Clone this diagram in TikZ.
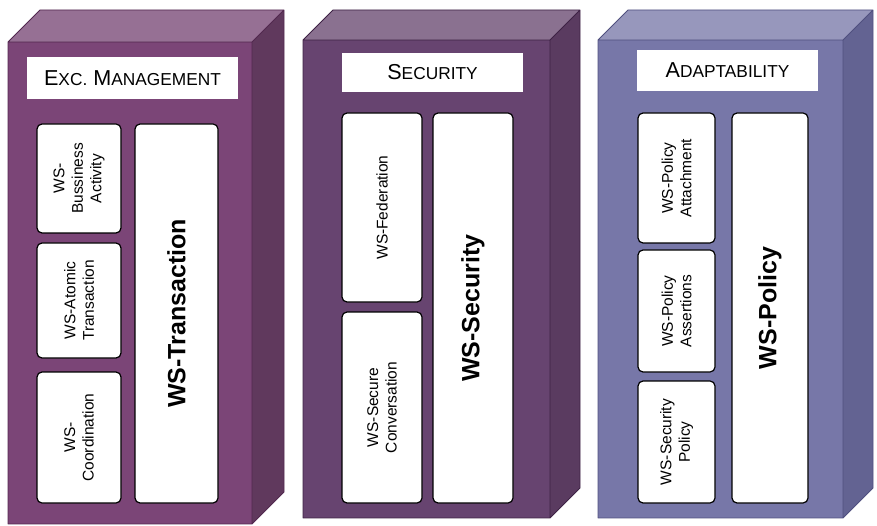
\documentclass[tikz,border=0pt]{standalone}
\usepackage{fontspec}
\setmainfont{Liberation Sans}
\definecolor{aF}{HTML}{7B4577}
\definecolor{aT}{HTML}{967094}
\definecolor{aS}{HTML}{60395D}
\definecolor{aL}{HTML}{52284F}
\definecolor{bF}{HTML}{674470}
\definecolor{bT}{HTML}{8A7190}
\definecolor{bS}{HTML}{5A3B60}
\definecolor{bL}{HTML}{3E2245}
\definecolor{cF}{HTML}{7777A8}
\definecolor{cT}{HTML}{9797BC}
\definecolor{cS}{HTML}{636392}
\definecolor{cL}{HTML}{50507F}
\newcommand{\bigc}[1]{{\fontsize{21.6}{25}\selectfont #1}}
\newcommand{\smc}[1]{{\fontsize{17.3}{20}\selectfont #1}}
\newcommand{\cube}[8]{% x1 y1 x2 y2 d front top side
  \fill[#6] (#1,#2) -- (#1+#5,#2-#5) -- (#3+#5,#2-#5) -- (#3,#2) -- cycle;
  \fill[#8] (#3,#2) -- (#3+#5,#2-#5) -- (#3+#5,#4-#5) -- (#3,#4) -- cycle;
  \fill[#7] (#1,#2) rectangle (#3,#4);
}
\tikzset{
  x=1pt, y=-1pt,
  inbox/.style={draw=black, line width=1.2pt, fill=white, rounded corners=5pt,
    rotate=90, align=center, inner sep=0pt,
    font=\fontsize{15.5}{18.5}\selectfont},
  bigbox/.style={inbox, font=\fontsize{25}{30}\selectfont\bfseries},
  label/.style={fill=white, inner sep=0pt, draw=none}
}
\begin{document}
\begin{tikzpicture}
\useasboundingbox (0,0) rectangle (877,526);
% cubes
\cube{8}{42}{252}{524}{32}{aT}{aF}{aS}
\draw[aL, line width=0.9pt, line join=round] (8,42) -- (40,10) -- (284,10) -- (284,492) -- (252,524) -- (8,524) -- cycle (8,42) -- (252,42) -- (284,10) (252,42) -- (252,524);
\cube{303}{40}{550}{518}{30}{bT}{bF}{bS}
\draw[bL, line width=0.9pt, line join=round] (303,40) -- (333,10) -- (580,10) -- (580,488) -- (550,518) -- (303,518) -- cycle (303,40) -- (550,40) -- (580,10) (550,40) -- (550,518);
\cube{598}{40}{843}{518}{30}{cT}{cF}{cS}
\draw[cL, line width=0.9pt, line join=round] (598,40) -- (628,10) -- (873,10) -- (873,488) -- (843,518) -- (598,518) -- cycle (598,40) -- (843,40) -- (873,10) (843,40) -- (843,518);
% labels
\node[label, minimum width=211pt, minimum height=42pt] (l1) at (132.5,78) {\bigc{E}\smc{XC.}\hspace{6pt}\bigc{M}\smc{ANAGEMENT}};
\node[label, minimum width=181pt, minimum height=39pt] (l2) at (432.5,72.5) {\bigc{S}\smc{ECURITY}};
\node[label, minimum width=181pt, minimum height=41pt] (l3) at (727.5,70.5) {\bigc{A}\smc{DAPTABILITY}};
% box 1 inner
\node[inbox, minimum width=109pt, minimum height=84pt] (ba) at (79,178.5) {WS-\\Bussiness\\Activity};
\node[inbox, minimum width=115pt, minimum height=84pt] (at) at (79,300.5) {WS-Atomic\\Transaction};
\node[inbox, minimum width=131pt, minimum height=84pt] (co) at (79,437.5) {WS-\\Coordination};
\node[bigbox, minimum width=379pt, minimum height=83pt] (tx) at (176.5,313.5) {WS-Transaction};
% box 2 inner
\node[inbox, minimum width=189pt, minimum height=80pt] (fe) at (382,207.5) {WS-Federation};
\node[inbox, minimum width=191pt, minimum height=80pt] (sc) at (382,407.5) {WS-Secure\\Conversation};
\node[bigbox, minimum width=390pt, minimum height=80pt] (se) at (473,308) {WS-Security};
% box 3 inner
\node[inbox, minimum width=130pt, minimum height=77pt] (pa) at (676.5,178) {WS-Policy\\Attachment};
\node[inbox, minimum width=122pt, minimum height=77pt] (ps) at (676.5,311) {WS-Policy\\Assertions};
\node[inbox, minimum width=122pt, minimum height=77pt] (sp) at (676.5,442) {WS-Security\\Policy};
\node[bigbox, minimum width=390pt, minimum height=76pt] (po) at (770,308) {WS-Policy};
\end{tikzpicture}
\end{document}
